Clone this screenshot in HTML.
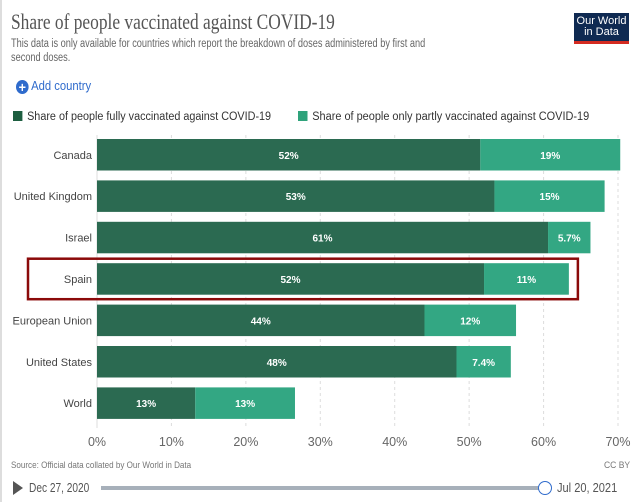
<!DOCTYPE html>
<html><head><meta charset="utf-8">
<style>
body{margin:0;background:#fff;width:640px;height:502px;overflow:hidden;font-family:"Liberation Sans",sans-serif;position:relative}
#frame{position:absolute;left:0;top:0;width:640px;height:502px;border-left:2px solid #ddd;box-sizing:border-box}
.t{position:absolute;white-space:nowrap;transform-origin:left top}
</style></head><body>
<div id="frame"></div>
<div class="t" style="left:11px;top:9px;font-family:'Liberation Serif',serif;font-size:22px;color:#555;transform:scaleX(0.79)">Share of people vaccinated against COVID-19</div>
<div class="t" style="left:11px;top:37px;font-size:11.5px;color:#666;line-height:14px;transform:scaleX(0.8)">This data is only available for countries which report the breakdown of doses administered by first and<br>second doses.</div>
<div style="position:absolute;left:574px;top:13px;width:55px;height:31px;background:#0f2a52;border-bottom:3px solid #d42b21;box-sizing:border-box;color:#fff;font-size:11px;line-height:11px;text-align:center;padding-top:3px">Our World<br>in Data</div>
<div class="t" style="left:16px;top:79px;font-size:12.5px;color:#2f6bcc;transform:scaleX(0.9)"><span style="display:inline-block;width:14px;height:14px;border-radius:50%;background:#2f6bcc;color:#fff;text-align:center;line-height:14px;font-weight:bold;font-size:14px;vertical-align:-2px">+</span> Add country</div>
<div class="t" style="left:13px;top:111px;font-size:11.5px;color:#333;transform:scaleX(0.94)"><span style="display:inline-block;width:10px;height:10px;background:#1d5e40;vertical-align:-1px;margin-right:5px"></span>Share of people fully vaccinated against COVID-19</div>
<div class="t" style="left:298px;top:111px;font-size:11.5px;color:#333;transform:scaleX(0.95)"><span style="display:inline-block;width:10px;height:10px;background:#2fa37b;vertical-align:-1px;margin-right:5px"></span>Share of people only partly vaccinated against COVID-19</div>
<svg id="chart" width="640" height="502" style="position:absolute;left:0;top:0"></svg>
<div class="t" style="left:11px;top:460px;font-size:9.5px;color:#777;transform:scaleX(0.85)">Source: Official data collated by Our World in Data</div>
<div class="t" style="left:604px;top:460px;font-size:9.5px;color:#777;transform:scaleX(0.9)">CC BY</div>
<div style="position:absolute;left:13px;top:481px;width:0;height:0;border-left:10px solid #555;border-top:7px solid transparent;border-bottom:7px solid transparent"></div>
<div class="t" style="left:29px;top:480px;font-size:13px;color:#555;transform:scaleX(0.78)">Dec 27, 2020</div>
<div style="position:absolute;left:101px;top:486px;width:442px;height:4px;background:#a7b0ba"></div>
<div style="position:absolute;left:538px;top:481px;width:12px;height:12px;border:1.5px solid #2f6bcc;border-radius:50%;background:#fff"></div>
<div class="t" style="left:557px;top:480px;font-size:13px;color:#555;transform:scaleX(0.85)">Jul 20, 2021</div>
<script>
const categories=["Canada","United Kingdom","Israel","Spain","European Union","United States","World"];
const fully=[51.5,53.4,60.6,52.0,44.0,48.3,13.2];
const partly=[18.8,14.8,5.7,11.4,12.3,7.3,13.4];
const fullyLabels=["52%","53%","61%","52%","44%","48%","13%"];
const partlyLabels=["19%","15%","5.7%","11%","12%","7.4%","13%"];
const ticks=[0,10,20,30,40,50,60,70];
const highlight="Spain";
const NS="http://www.w3.org/2000/svg";
const svg=document.getElementById('chart');
const x0=97,x1=618,xmax=70,top0=139,pitch=41.4,bh=31.5;
const X=v=>x0+(x1-x0)*v/xmax;
const Y=i=>top0+i*pitch;
function mk(tag,attrs){const e=document.createElementNS(NS,tag);for(const k in attrs)e.setAttribute(k,attrs[k]);svg.appendChild(e);return e;}
ticks.forEach(t=>{
  const l=mk('line',{x1:X(t),x2:X(t),y1:135,y2:428,stroke:'#ddd','stroke-dasharray':t===0?'none':'3,3'});
  
  
  const tx=mk('text',{x:X(t),y:446,'text-anchor':'middle','font-size':12.5,fill:'#666','font-family':'Liberation Sans, sans-serif'});
  tx.textContent=t+'%';
  
  
});
categories.forEach((c,i)=>{
  const y=Y(i);
  const lab=mk('text',{x:92,y:y+bh/2+4,'text-anchor':'end','font-size':11,fill:'#444','font-family':'Liberation Sans, sans-serif'});
  lab.textContent=c;
  
  
  const r1=mk('rect',{x:X(0),y:y,width:X(fully[i])-X(0),height:bh,fill:'#2b6a51'});
  
  
  const r2=mk('rect',{x:X(fully[i]),y:y,width:X(fully[i]+partly[i])-X(fully[i]),height:bh,fill:'#33a783'});
  
  
  const t1=mk('text',{x:(X(0)+X(fully[i]))/2,y:y+bh/2+4,'text-anchor':'middle','font-size':10,'font-weight':'bold',fill:'#fff','font-family':'Liberation Sans, sans-serif'});
  t1.textContent=fullyLabels[i];
  
  
  const t2=mk('text',{x:(X(fully[i])+X(fully[i]+partly[i]))/2,y:y+bh/2+4,'text-anchor':'middle','font-size':10,'font-weight':'bold',fill:'#fff','font-family':'Liberation Sans, sans-serif'});
  t2.textContent=partlyLabels[i];
  
  
  if(c===highlight){
    const h=mk('rect',{x:28,y:y-4.5,width:X(fully[i]+partly[i])+9-28,height:bh+9,fill:'none',stroke:'#8b0a0a','stroke-width':2.5});
    
    
  }
});
</script>
</body></html>
